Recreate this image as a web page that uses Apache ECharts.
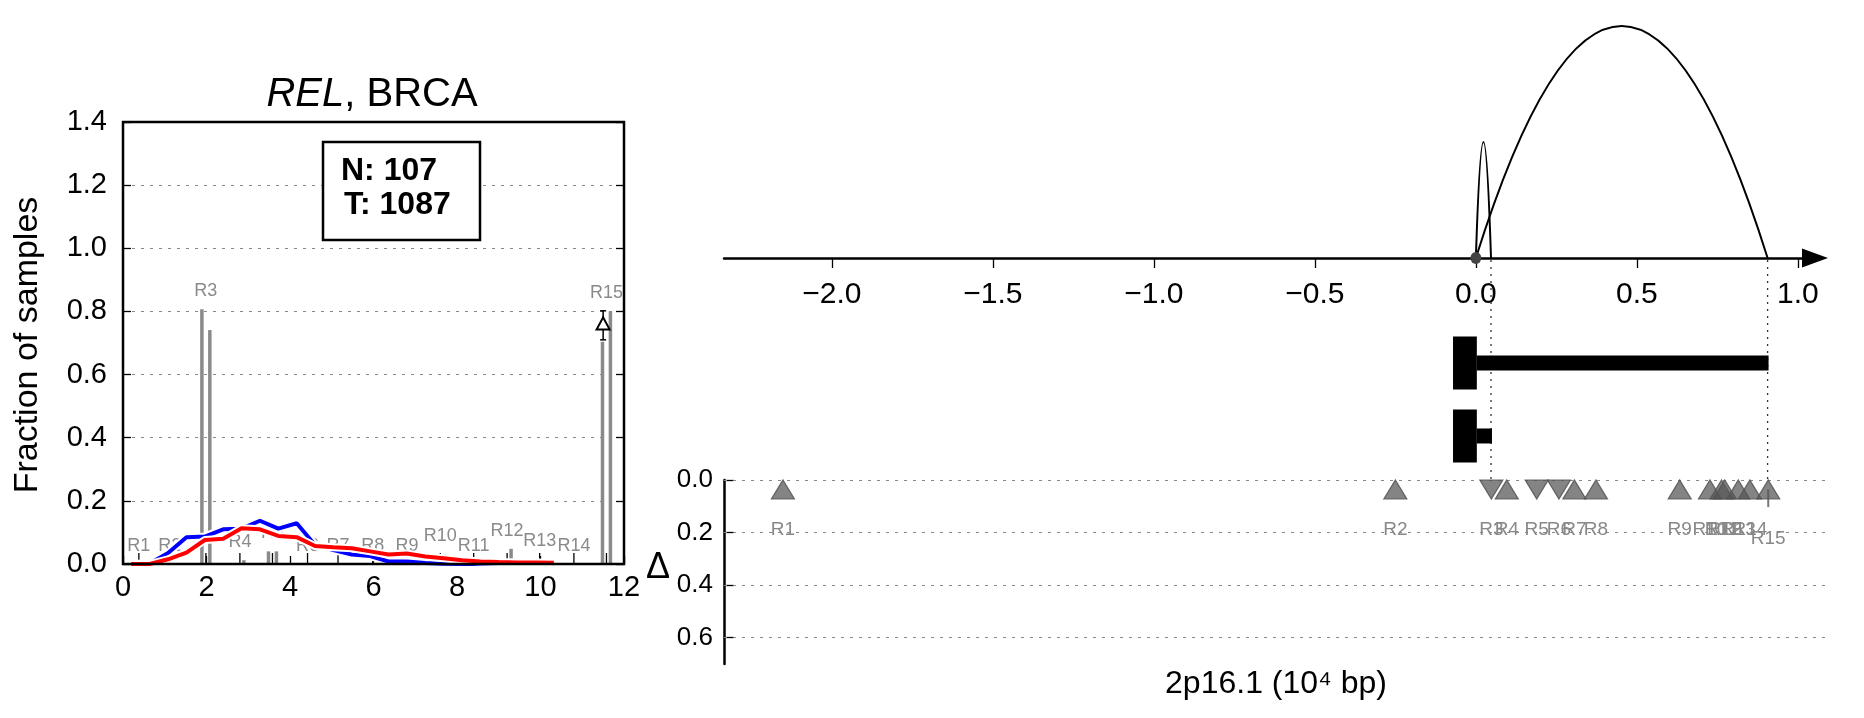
<!DOCTYPE html>
<html><head><meta charset="utf-8">
<script src="https://cdn.jsdelivr.net/npm/echarts@6/dist/echarts.min.js"></script>
<style>html,body{margin:0;padding:0;background:#fff}#c{width:1864px;height:718px}</style>
</head><body><div id="c"></div>
<script>
// ================= DATA =================
// Left panel
const leftXTicks = [0, 2, 4, 6, 8, 10, 12];
const leftYTicks = [0, 0.2, 0.4, 0.6, 0.8, 1.0, 1.2, 1.4];
const regionNames = ['R1','R2','R3','R4','R5','R6','R7','R8','R9','R10','R11','R12','R13','R14','R15'];
const regionPosLeft = [0.38, 1.12, 1.985, 2.8, 3.58, 4.42, 5.15, 5.98, 6.8, 7.6, 8.4, 9.2, 9.98, 10.8, 11.58];
const regionFracA = [0, 0, 0.807, 0, 0.04, 0, 0, 0, 0, 0, 0, 0, 0, 0, 0.704];
const regionFracB = [0, 0, 0.741, 0.012, 0.04, 0, 0, 0, 0, 0.03, 0, 0.048, 0.016, 0, 0.80];
const binX = [0.2, 0.64, 1.08, 1.52, 1.96, 2.4, 2.84, 3.28, 3.72, 4.16, 4.6, 5.04, 5.48, 5.92, 6.36, 6.8, 7.24, 7.68, 8.12, 8.56, 9.0, 9.44, 9.88, 10.32];
const blueDensity = [0, 0.002, 0.035, 0.085, 0.087, 0.11, 0.112, 0.137, 0.112, 0.129, 0.06, 0.044, 0.03, 0.025, 0.008, 0.008, 0.003, 0.001, 0, 0, 0, 0, 0, 0];
const redDensity = [0, 0, 0.015, 0.036, 0.076, 0.08, 0.113, 0.110, 0.089, 0.085, 0.057, 0.053, 0.05, 0.04, 0.03, 0.033, 0.024, 0.018, 0.012, 0.008, 0.006, 0.005, 0.005, 0.004];
const deltaPoint = [11.5, 0.762];
const deltaRange = [0.71, 0.802];
const nNormal = 107;
const nTumor = 1087;
// Right panel
const topXTicks = [-2.0, -1.5, -1.0, -0.5, 0.0, 0.5, 1.0];
const arcStart = [0, 0];
const arcEnd = [0.906, 0.047];
const arcHeight = [1.0, 0.5];
const txBlockStart = [-0.071, -0.071];
const txBlockEnd = [0.003, 0.003];
const txTailEnd = [0.909, 0.050];
const regionPosGenome = [-2.152, -0.250, 0.048, 0.096, 0.189, 0.258, 0.306, 0.373, 0.633, 0.727, 0.763, 0.773, 0.815, 0.851, 0.908];
const regionDir = ['up','up','down','up','down','down','up','up','up','up','up','up','up','up','up'];
const regionDelta = [0.036,0.036,0.036,0.036,0.036,0.036,0.036,0.036,0.036,0.036,0.036,0.036,0.036,0.036,0.036];
const regionLabelY = [0.19,0.19,0.19,0.19,0.19,0.19,0.19,0.19,0.19,0.19,0.19,0.19,0.19,0.19,0.225];
const r15Err = [0.036, 0.103];
const lowerYTicks = [0.0, 0.2, 0.4, 0.6];

// ================= CHART =================
const FF = "'Liberation Sans', Arial, Helvetica, sans-serif";
const FN = "'Liberation Sans Narrow', 'Liberation Sans', Arial, sans-serif";
const chart = echarts.init(document.getElementById('c'));
const dotted = {color:'#888', width:1, type:[3,6]};
const XMIN = -2.335;

const option = {
  animation: false,
  backgroundColor: '#fff',
  grid: [
    {left:123, top:122, width:501, height:442, outerBoundsMode:'none'},
    {left:724, top:26, width:1091, height:232, outerBoundsMode:'none'},
    {left:724, top:258, width:1104, height:222, outerBoundsMode:'none'},
    {left:724, top:480, width:1104, height:184, outerBoundsMode:'none'}
  ],
  xAxis: [
    {gridIndex:0, type:'value', min:leftXTicks[0], max:leftXTicks[leftXTicks.length-1], interval:2,
     axisLine:{show:false}, splitLine:{show:false},
     axisTick:{inside:true, length:8, lineStyle:{color:'#000', width:1.3}},
     axisLabel:{fontSize:29, fontFamily:FF, color:'#000', margin:9}},
    {gridIndex:1, type:'value', min:XMIN, max:XMIN + 1091/322,
     axisLine:{show:true, lineStyle:{color:'#000', width:2.5}, symbol:['none','triangle'], symbolSize:[19,26]},
     splitLine:{show:false},
     axisTick:{show:true, length:10, customValues:topXTicks, lineStyle:{color:'#000', width:1.3}},
     axisLabel:{customValues:topXTicks, fontSize:30, fontFamily:FF, color:'#000', margin:22,
       formatter:v => (v < 0 ? '\u2212' + Math.abs(v).toFixed(1) : v.toFixed(1))}},
    {gridIndex:2, type:'value', min:XMIN, max:XMIN + 1104/322, show:false},
    {gridIndex:3, type:'value', min:XMIN, max:XMIN + 1104/322, show:false}
  ],
  yAxis: [
    {gridIndex:0, type:'value', min:0, max:1.4, interval:0.2, position:'left',
     axisLine:{show:false}, splitLine:{show:true, showMinLine:false, showMaxLine:false, lineStyle:dotted},
     axisTick:{inside:true, length:8, lineStyle:{color:'#000', width:1.3}},
     axisLabel:{fontSize:29, fontFamily:FF, color:'#000', margin:16, formatter:v=>v.toFixed(1)}},
    {gridIndex:0, type:'value', min:0, max:1.4, interval:0.2, position:'right',
     axisLine:{show:false}, splitLine:{show:false}, axisLabel:{show:false},
     axisTick:{inside:true, length:8, lineStyle:{color:'#000', width:1.3}}},
    {gridIndex:1, type:'value', min:0, max:1, show:false},
    {gridIndex:2, type:'value', min:-0.438, max:2.603, inverse:true, show:false},
    {gridIndex:3, type:'value', min:0, max:0.7, interval:0.1, inverse:true,
     axisLine:{show:true, onZero:false, lineStyle:{color:'#000', width:2.5}},
     splitLine:{show:false},
     axisTick:{inside:true, length:10, customValues:lowerYTicks, lineStyle:{color:'#000', width:1.3}},
     axisLabel:{customValues:lowerYTicks, fontSize:26, fontFamily:FF, color:'#000', margin:11, formatter:v=>v.toFixed(1)}}
  ],
  series: [
    // left: gray region bars + black region ticks
    {type:'custom', xAxisIndex:0, yAxisIndex:0, z:2,
     data: regionPosLeft.map((x,i)=>[x, regionFracA[i], regionFracB[i]]),
     renderItem(params, api){
       const x = api.value(0), children = [];
       [[-0.095,1],[0.095,2]].forEach(([off,dim])=>{
         const v = api.value(dim); if (v <= 0) return;
         const p0 = api.coord([x+off,0]), p1 = api.coord([x+off,v]);
         children.push({type:'rect', shape:{x:p0[0]-1.75, y:p1[1], width:3.5, height:p0[1]-p1[1]}, style:{fill:'#8a8a8a'}});
       });
       const b = api.coord([x,0]);
       children.push({type:'line', shape:{x1:b[0], y1:b[1]-1, x2:b[0], y2:b[1]-11}, style:{stroke:'#000', lineWidth:1.3}});
       return {type:'group', children};
     }},
    // left: region labels
    {type:'custom', xAxisIndex:0, yAxisIndex:0, z:2,
     data: regionPosLeft.map((x,i)=>[x, Math.max(regionFracA[i], regionFracB[i]), i]),
     renderItem(params, api){
       const p = api.coord([api.value(0), api.value(1)]);
       return {type:'text', x:p[0], y:p[1]-18, style:{text:regionNames[api.value(2)], fill:'#8a8a8a', font:'18px '+FF, align:'center', verticalAlign:'middle'}};
     }},
    // blue & red densities with white halos
    {type:'line', xAxisIndex:0, yAxisIndex:0, z:3, symbol:'none', silent:true,
     data: binX.map((x,i)=>[x, blueDensity[i]]), lineStyle:{color:'#fff', width:8}},
    {type:'line', xAxisIndex:0, yAxisIndex:0, z:4, symbol:'none',
     data: binX.map((x,i)=>[x, blueDensity[i]]), lineStyle:{color:'#0000ff', width:4}},
    {type:'line', xAxisIndex:0, yAxisIndex:0, z:5, symbol:'none', silent:true,
     data: binX.map((x,i)=>[x, redDensity[i]]), lineStyle:{color:'#fff', width:8}},
    {type:'line', xAxisIndex:0, yAxisIndex:0, z:6, symbol:'none',
     data: binX.map((x,i)=>[x, redDensity[i]]), lineStyle:{color:'#ff0000', width:4}},
    // delta error bar
    {type:'custom', xAxisIndex:0, yAxisIndex:0, z:7,
     data: [[deltaPoint[0], deltaRange[0], deltaRange[1]]],
     renderItem(params, api){
       const lo = api.coord([api.value(0), api.value(1)]), hi = api.coord([api.value(0), api.value(2)]);
       return {type:'group', children:[
         {type:'line', shape:{x1:lo[0], y1:lo[1], x2:hi[0], y2:hi[1]}, style:{stroke:'#000', lineWidth:1.5}},
         {type:'line', shape:{x1:lo[0]-3, y1:lo[1], x2:lo[0]+3, y2:lo[1]}, style:{stroke:'#000', lineWidth:1.5}},
         {type:'line', shape:{x1:hi[0]-3, y1:hi[1], x2:hi[0]+3, y2:hi[1]}, style:{stroke:'#000', lineWidth:1.5}}
       ]};
     }},
    {type:'scatter', xAxisIndex:0, yAxisIndex:0, z:8, data:[deltaPoint],
     symbol:'triangle', symbolSize:[13,12], itemStyle:{color:'#fff', borderColor:'#000', borderWidth:2, opacity:1}},

    // right top: arcs
    {type:'custom', xAxisIndex:1, yAxisIndex:2, z:5,
     data: arcStart.map((s,i)=>[s, arcEnd[i], arcHeight[i]]),
     renderItem(params, api){
       const s = api.coord([api.value(0),0]), e = api.coord([api.value(1),0]);
       const c = api.coord([(api.value(0)+api.value(1))/2, 2*api.value(2)]);
       return {type:'bezierCurve', shape:{x1:s[0], y1:s[1], x2:e[0], y2:e[1], cpx1:c[0], cpy1:c[1]},
               style:{stroke:'#000', fill:'none', lineWidth:2}};
     }},
    {type:'scatter', xAxisIndex:1, yAxisIndex:2, z:6, data:[[arcStart[0], 0]],
     symbol:'circle', symbolSize:[11,12], itemStyle:{color:'#444', opacity:1}},
    // dotted verticals at arc ends
    {type:'custom', xAxisIndex:2, yAxisIndex:3, z:4,
     data: arcEnd.map(v=>[v, 0]),
     renderItem(params, api){
       const x = api.coord([api.value(0), 0])[0], cs = params.coordSys;
       return {type:'line', shape:{x1:x, y1:cs.y+2, x2:x, y2:cs.y+cs.height}, style:{stroke:'#333', lineWidth:1.3, lineDash:[2,5]}};
     }},
    // transcript blocks
    {type:'custom', xAxisIndex:2, yAxisIndex:3, z:5,
     data: txBlockStart.flatMap((s,i)=>[[s, txBlockEnd[i], i+1, 1], [txBlockEnd[i], txTailEnd[i], i+1, 0]]),
     renderItem(params, api){
       const a = api.coord([api.value(0), api.value(2)]), b = api.coord([api.value(1), api.value(2)]);
       const h = api.value(3) ? 53 : 15;
       return {type:'rect', shape:{x:a[0], y:a[1]-h/2, width:b[0]-a[0], height:h}, style:{fill:'#000'}};
     }},
    // lower: triangles (+ dotted grid lines at the y ticks)
    {type:'scatter', xAxisIndex:3, yAxisIndex:4, z:5,
     data: regionPosGenome.map((x,i)=>({value:[x, regionDelta[i]], symbolRotate: regionDir[i]==='down' ? 180 : 0})),
     symbol:'triangle', symbolSize:[23,19],
     itemStyle:{color:'rgba(85,85,85,0.72)', borderColor:'rgba(85,85,85,0.85)', borderWidth:1.2, opacity:1},
     markLine:{silent:true, symbol:['none','none'], label:{show:false}, z:1,
       lineStyle:{color:'#888', width:1, type:[3,6]},
       data: lowerYTicks.map(v=>({yAxis:v}))}},
    // R15 error bar
    {type:'custom', xAxisIndex:3, yAxisIndex:4, z:4,
     data: [[regionPosGenome[14], r15Err[0], r15Err[1]]],
     renderItem(params, api){
       const lo = api.coord([api.value(0), api.value(1)]), hi = api.coord([api.value(0), api.value(2)]);
       return {type:'line', shape:{x1:lo[0], y1:lo[1], x2:hi[0], y2:hi[1]}, style:{stroke:'#777', lineWidth:2}};
     }},
    // lower: labels
    {type:'custom', xAxisIndex:3, yAxisIndex:4, z:5,
     data: regionPosGenome.map((x,i)=>[x, regionLabelY[i], i]),
     renderItem(params, api){
       const p = api.coord([api.value(0), api.value(1)]);
       return {type:'text', x:p[0], y:p[1], style:{text:regionNames[api.value(2)], fill:'#888', font:'19px '+FN, align:'center', verticalAlign:'middle'}};
     }}
  ],
  graphic: [
    {type:'rect', z:90, shape:{x:123, y:122, width:501, height:442}, style:{fill:'none', stroke:'#000', lineWidth:2.5}},
    {type:'text', x:372, y:95, z:100, style:{text:'{i|REL}, BRCA', font:'40px '+FF, fill:'#000', align:'center', verticalAlign:'middle',
       rich:{i:{fontStyle:'italic', fontSize:40, fontFamily:FF, fill:'#000'}}}},
    {type:'text', x:28, y:345, rotation:Math.PI/2, z:100, style:{text:'Fraction of samples', font:'34px '+FF, fill:'#000', align:'center', verticalAlign:'middle'}},
    {type:'rect', z:100, shape:{x:323, y:142, width:157, height:98}, style:{fill:'#fff', stroke:'#000', lineWidth:2.5}},
    {type:'text', x:341, y:171, z:101, style:{text:'N: ' + nNormal, font:'bold 32px '+FF, fill:'#000', align:'left', verticalAlign:'middle'}},
    {type:'text', x:344, y:205, z:101, style:{text:'T: ' + nTumor, font:'bold 32px '+FF, fill:'#000', align:'left', verticalAlign:'middle'}},
    {type:'text', x:658, y:568, z:100, style:{text:'\u0394', font:'36px '+FF, fill:'#000', align:'center', verticalAlign:'middle'}},
    {type:'text', x:1276, y:684, z:100, style:{text:'2p16.1 (10\u2074 bp)', font:'32px '+FF, fill:'#000', align:'center', verticalAlign:'middle'}}
  ]
};
chart.setOption(option);
</script>
</body></html>
